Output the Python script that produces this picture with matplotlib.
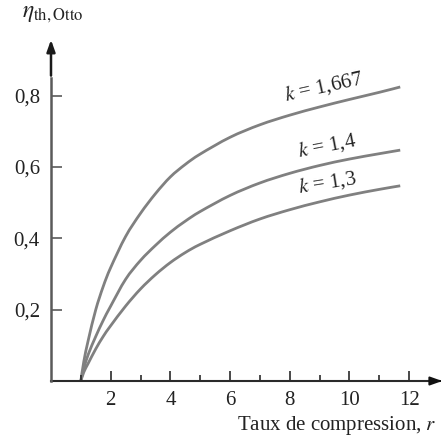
import matplotlib
matplotlib.use("Agg")
import matplotlib.pyplot as plt
import numpy as np
from matplotlib.path import Path
from matplotlib.patches import PathPatch
from matplotlib.ticker import FixedLocator, FixedFormatter

plt.rcParams['font.family'] = ['Liberation Serif', 'DejaVu Serif']
plt.rcParams['mathtext.fontset'] = 'stix'

# Data
r_vals = [1.0, 1.1, 1.25, 1.5, 1.75, 2.0, 2.5, 3.0, 3.5, 4.0, 4.5, 5.0, 6.0, 7.0, 8.0, 9.0, 10.0, 11.0, 11.7]
eta_k1667 = [0.0, 0.055, 0.115, 0.2, 0.265, 0.318, 0.405, 0.47, 0.525, 0.572, 0.607, 0.636, 0.683, 0.718, 0.745, 0.768, 0.789, 0.809, 0.824]
eta_k14 = [0.0, 0.035, 0.075, 0.125, 0.17, 0.21, 0.285, 0.338, 0.38, 0.417, 0.448, 0.475, 0.52, 0.555, 0.582, 0.604, 0.622, 0.637, 0.647]
eta_k13 = [0.0, 0.025, 0.05, 0.09, 0.125, 0.155, 0.21, 0.258, 0.298, 0.332, 0.36, 0.383, 0.421, 0.454, 0.48, 0.502, 0.521, 0.537, 0.547]
series_labels = ["$k$ = 1,667", "$k$ = 1,4", "$k$ = 1,3"]
x_ticks = [2, 4, 6, 8, 10, 12]
x_minor = [1, 3, 5, 7, 9, 11]
y_ticks = [0.2, 0.4, 0.6, 0.8]
y_tick_labels = ["0,2", "0,4", "0,6", "0,8"]
x_label = "Taux de compression, $r$"
y_label = r"$\eta_{\mathrm{th,Otto}}$"

W, H = 448, 437
fig = plt.figure(figsize=(W / 100, H / 100), dpi=100)
ax = fig.add_axes([51 / W, 1 - 381 / H, (445 - 51) / W, (381 - 37) / H])
xmax, ymax = 13.2, 0.964
ax.set_xlim(0, xmax)
ax.set_ylim(0, ymax)
for s in ax.spines.values():
    s.set_visible(False)


def smooth_path(xs, ys):
    """Catmull-Rom curve through the read points, as cubic Bezier segments."""
    p = np.column_stack([xs, ys]).astype(float)
    verts = [p[0]]
    codes = [Path.MOVETO]
    n = len(p)
    for i in range(n - 1):
        p0 = p[i - 1] if i > 0 else p[i]
        p1, p2 = p[i], p[i + 1]
        p3 = p[i + 2] if i + 2 < n else p[i + 1]
        c1 = p1 + (p2 - p0) / 6.0
        c2 = p2 - (p3 - p1) / 6.0
        verts += [c1, c2, p2]
        codes += [Path.CURVE4] * 3
    return Path(verts, codes)


curve_color = '#808080'
for eta in (eta_k1667, eta_k14, eta_k13):
    ax.add_patch(PathPatch(smooth_path(r_vals, eta), facecolor='none',
                           edgecolor=curve_color, lw=2.0))

# axes with arrows
ax.plot([0, xmax - 0.25], [0, 0], color='#2a2a2a', lw=1.5, clip_on=False)
ax.annotate('', xy=(xmax, 0), xytext=(xmax - 0.3, 0),
            arrowprops=dict(arrowstyle='-|>,head_length=0.7,head_width=0.25', color='#111111', lw=1.5),
            annotation_clip=False)
ax.plot([0, 0], [0, 0.85], color='#5a5a5a', lw=1.8, clip_on=False)
ax.annotate('', xy=(0, ymax), xytext=(0, 0.848),
            arrowprops=dict(arrowstyle='-|>,head_length=0.7,head_width=0.25', color='#1a1a1a', lw=1.8),
            annotation_clip=False)

ax.xaxis.set_major_locator(FixedLocator(x_ticks))
ax.xaxis.set_minor_locator(FixedLocator(x_minor))
ax.yaxis.set_major_locator(FixedLocator(y_ticks))
ax.yaxis.set_major_formatter(FixedFormatter(y_tick_labels))
ax.tick_params(axis='x', which='major', direction='in', length=7, width=1.2, color='#2a2a2a',
               labelsize=15, pad=7, labelcolor='#222222')
ax.tick_params(axis='x', which='minor', direction='in', length=4, width=1.2, color='#2a2a2a')
ax.tick_params(axis='y', which='major', direction='in', length=8, width=1.2, color='#5a5a5a',
               labelsize=15, pad=8, labelcolor='#222222')

ax.text((437 - 51) / 394, -(430 - 381) / 344, x_label, transform=ax.transAxes,
        ha='right', va='baseline', fontsize=15, color='#222222')
fig.text(22 / W, 1 - 15 / H, y_label, ha='left', va='center', fontsize=17, color='#222222')

label_pos = [(9.13, 0.825, 12.5), (9.26, 0.66, 11), (9.26, 0.556, 9)]
for lab, (x, y, rot) in zip(series_labels, label_pos):
    ax.text(x, y, lab, ha='center', va='center', fontsize=15, rotation=rot,
            rotation_mode='anchor', color='#222222')

fig.savefig('out.png', dpi=100)
